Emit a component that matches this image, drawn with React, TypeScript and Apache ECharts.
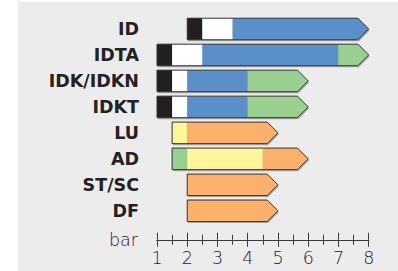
import React, { useEffect, useRef } from "react";
import * as echarts from "echarts";

const categories = ["ID", "IDTA", "IDK/IDKN", "IDKT", "LU", "AD", "ST/SC", "DF"];

// segment boundaries along the pressure axis (bar), per row
const boundaries: number[][] = [
  [2, 2.5, 3.5, 8],
  [1, 1.5, 2.5, 7, 8],
  [1, 1.5, 2, 4, 6],
  [1, 1.5, 2, 4, 6],
  [1.5, 2, 5],
  [1.5, 2, 4.5, 6],
  [2, 5],
  [2, 5],
];

// kind of each segment, per row
const segmentKinds: string[][] = [
  ["black", "white", "blue"],
  ["black", "white", "blue", "green"],
  ["black", "white", "blue", "green"],
  ["black", "white", "blue", "green"],
  ["yellow", "orange"],
  ["green", "yellow", "orange"],
  ["orange"],
  ["orange"],
];

const axisMin = 1;
const axisMax = 8;
const axisName = "bar";

const kindColors: Record<string, string> = {
  black: "#231f20",
  white: "#ffffff",
  blue: "#5b8fc9",
  green: "#99cf8f",
  yellow: "#fff59a",
  orange: "#fbb06b",
};

export default function App() {
  const ref = useRef<HTMLDivElement>(null);
  useEffect(() => {
    if (!ref.current) return;
    const chart = echarts.init(ref.current, undefined, { renderer: "svg" });
    const data = boundaries.map((b, i) => [b[0], b[b.length - 1], i]);
    const axisCommon = {
      type: "value" as const,
      min: axisMin,
      max: axisMax,
      interval: 1,
      position: "bottom" as const,
      offset: 16,
      splitLine: { show: false },
      axisLine: { show: true, lineStyle: { color: "#3a3a3a", width: 1 } },
    };
    const textStyle = { fontFamily: "DejaVu Sans", fontWeight: 300, fontSize: 17.5, color: "#222" };
    chart.setOption({
      animation: false,
      graphic: [
        {
          type: "rect",
          z: -10,
          silent: true,
          shape: { x: 18, y: 2, width: 380, height: 269 },
          style: { fill: "#ececec" },
        },
      ],
      grid: { left: 157, right: 29.3, top: 16, bottom: 47.2, containLabel: false },
      xAxis: [
        {
          ...axisCommon,
          name: axisName,
          nameLocation: "start",
          nameGap: 19,
          nameTextStyle: textStyle,
          axisTick: { show: true, length: 7, lineStyle: { color: "#3a3a3a" } },
          minorTick: { show: true, splitNumber: 2, length: 5, lineStyle: { color: "#3a3a3a" } },
          axisLabel: { ...textStyle, margin: 9 },
        },
        {
          ...axisCommon,
          axisTick: { show: true, inside: true, length: 7, lineStyle: { color: "#3a3a3a" } },
          minorTick: { show: true, splitNumber: 2, length: 5, lineStyle: { color: "#3a3a3a" } },
          axisLabel: { show: false },
        },
      ],
      yAxis: {
        type: "category",
        data: categories,
        inverse: true,
        axisLine: { show: false },
        axisTick: { show: false },
        splitLine: { show: false },
        axisLabel: {
          fontFamily: "DejaVu Sans",
          fontWeight: "bold",
          fontSize: 17.5,
          color: "#222",
          margin: 18,
        },
      },
      series: [
        {
          type: "custom",
          coordinateSystem: "cartesian2d",
          xAxisIndex: 0,
          yAxisIndex: 0,
          encode: { x: [0, 1], y: 2 },
          data,
          renderItem: (params: any, api: any) => {
            const i = params.dataIndex;
            const b = boundaries[i];
            const kinds = segmentKinds[i];
            const cy = api.coord([b[0], i])[1];
            const h = api.size([0, 1])[1] * 0.83;
            const top = cy - h / 2;
            const bot = cy + h / 2;
            const head = h / 2;
            const xs = b.map((v) => api.coord([v, i])[0]);
            const xStart = xs[0];
            const xEnd = xs[xs.length - 1];
            const outline = [
              [xStart, top],
              [xEnd - head, top],
              [xEnd, cy],
              [xEnd - head, bot],
              [xStart, bot],
            ];
            const children: any[] = [];
            children.push({
              type: "polygon",
              shape: { points: outline.map((p) => [p[0] + 1, p[1] + 1.5]) },
              style: { fill: "rgba(0,0,0,0.28)" },
            });
            for (let j = 0; j < kinds.length; j++) {
              const x0 = xs[j];
              const x1 = xs[j + 1];
              const fill = kindColors[kinds[j]];
              if (j === kinds.length - 1) {
                children.push({
                  type: "polygon",
                  shape: {
                    points: [
                      [x0, top],
                      [x1 - head, top],
                      [x1, cy],
                      [x1 - head, bot],
                      [x0, bot],
                    ],
                  },
                  style: { fill },
                });
              } else {
                children.push({
                  type: "rect",
                  shape: { x: x0, y: top, width: x1 - x0, height: h },
                  style: { fill },
                });
              }
            }
            children.push({
              type: "polygon",
              shape: { points: outline },
              style: { fill: "none", stroke: "#333", lineWidth: 1 },
            });
            return { type: "group", children };
          },
        },
      ],
    });
    return () => chart.dispose();
  }, []);
  return (
    <div
      ref={ref}
      style={{ position: "absolute", left: 0, top: 0, width: 398, height: 271 }}
    />
  );
}
